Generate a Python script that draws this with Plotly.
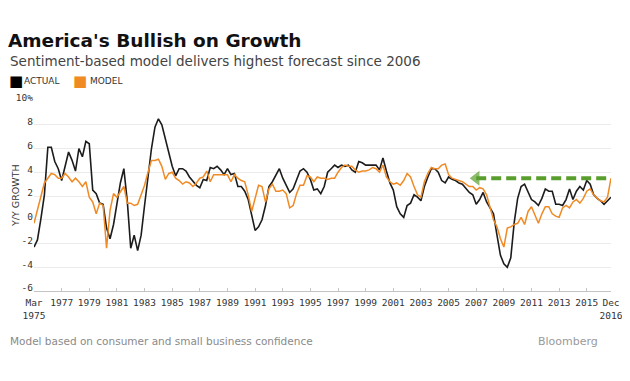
import pandas as pd
import plotly.graph_objects as go

# ---- data (quarterly, Mar 1975 .. Dec 2016), Y/Y growth in % ----
actual = [
    -2.3, -1.7, 0.1, 2.1,   # 1975
    6.1, 6.1, 4.9, 4.3,     # 1976
    3.3, 4.5, 5.7, 5.0,     # 1977
    4.1, 6.0, 5.3, 6.6,     # 1978
    6.4, 2.5, 2.2, 1.4,     # 1979
    1.3, -0.7, -1.6, -0.4,  # 1980
    1.2, 3.1, 4.3, 1.5,     # 1981
    -2.4, -1.3, -2.6, -1.3, # 1982
    1.2, 3.5, 6.0, 7.8,     # 1983
    8.5, 8.0, 6.9, 5.6,     # 1984
    4.5, 3.7, 4.3, 4.3,     # 1985
    4.1, 3.6, 3.2, 2.9,     # 1986
    2.7, 3.4, 3.3, 4.4,     # 1987
    4.3, 4.5, 4.2, 3.8,     # 1988
    4.3, 3.8, 3.9, 2.8,     # 1989
    2.8, 2.4, 1.7, 0.4,     # 1990
    -0.9, -0.6, 0.0, 1.2,   # 1991
    2.8, 3.2, 3.8, 4.3,     # 1992
    3.5, 2.9, 2.3, 2.6,     # 1993
    3.4, 4.1, 4.3, 4.0,     # 1994
    3.4, 2.5, 2.6, 2.2,     # 1995
    2.8, 4.0, 4.3, 4.6,     # 1996
    4.4, 4.6, 4.5, 4.6,     # 1997
    4.2, 4.0, 4.9, 4.8,     # 1998
    4.6, 4.6, 4.6, 4.6,     # 1999
    4.2, 5.2, 4.1, 3.1,     # 2000
    2.5, 1.1, 0.5, 0.2,     # 2001
    1.2, 1.4, 2.1, 1.9,     # 2002
    1.6, 2.8, 3.6, 4.3,     # 2003
    4.3, 4.0, 3.3, 3.1,     # 2004
    3.6, 3.4, 3.3, 3.1,     # 2005
    3.0, 2.6, 2.3, 2.1,     # 2006
    1.3, 1.7, 2.3, 1.5,     # 2007
    1.0, 0.5, -1.3, -3.0,   # 2008
    -3.7, -4.0, -3.2, -0.2, # 2009
    1.8, 2.8, 3.0, 2.4,     # 2010
    1.7, 1.5, 1.2, 1.8,     # 2011
    2.6, 2.4, 2.4, 1.3,     # 2012
    1.3, 1.2, 1.7, 2.6,     # 2013
    1.7, 2.4, 2.8, 2.5,     # 2014
    3.3, 3.0, 2.1, 1.8,     # 2015
    1.6, 1.3, 1.6, 1.9,     # 2016
]

model = [
    -0.3, 0.8, 2.1, 3.1,    # 1975
    3.5, 3.9, 3.8, 3.5,     # 1976
    3.5, 3.9, 3.6, 3.2,     # 1977
    3.5, 3.2, 2.8, 3.2,     # 1978
    1.9, 1.5, 0.5, 1.4,     # 1979
    1.2, -2.4, 0.8, 2.2,    # 1980
    1.9, 2.4, 2.8, 1.4,     # 1981
    1.4, 1.2, 1.3, 2.1,     # 1982
    2.9, 4.0, 5.0, 5.0,     # 1983
    5.1, 4.5, 3.4, 3.9,     # 1984
    4.0, 3.5, 3.3, 3.0,     # 1985
    3.2, 3.1, 2.8, 3.1,     # 1986
    3.5, 3.6, 4.1, 3.2,     # 1987
    3.8, 3.8, 3.8, 3.8,     # 1988
    3.8, 3.2, 3.8, 3.5,     # 1989
    3.3, 3.2, 2.1, 0.7,     # 1990
    1.8, 2.9, 2.8, 1.5,     # 1991
    2.6, 3.0, 2.4, 2.4,     # 1992
    2.5, 2.2, 1.0, 1.2,     # 1993
    2.2, 2.9, 2.9, 3.7,     # 1994
    3.6, 3.2, 3.6, 3.5,     # 1995
    3.5, 3.4, 3.5, 3.5,     # 1996
    4.0, 4.4, 4.6, 4.5,     # 1997
    4.5, 4.2, 4.0, 4.1,     # 1998
    4.1, 4.2, 4.4, 4.3,     # 1999
    4.0, 4.6, 3.6, 3.2,     # 2000
    3.0, 3.1, 2.9, 3.3,     # 2001
    3.9, 3.6, 2.8, 2.1,     # 2002
    1.9, 3.2, 3.9, 4.4,     # 2003
    4.3, 4.3, 4.6, 4.7,     # 2004
    3.8, 3.5, 3.4, 3.3,     # 2005
    3.2, 3.0, 2.8, 2.8,     # 2006
    2.5, 2.7, 2.6, 2.1,     # 2007
    1.0, 0.0, -0.6, -1.6,   # 2008
    -2.3, -0.7, -0.6, -0.4, # 2009
    -0.3, 0.2, -0.4, 0.7,   # 2010
    1.1, 0.4, -0.3, 0.5,    # 2011
    1.1, 1.1, 0.5, 0.3,     # 2012
    0.2, 1.0, 1.2, 1.0,     # 2013
    1.5, 1.7, 1.4, 1.8,     # 2014
    2.4, 2.6, 2.1, 1.8,     # 2015
    1.6, 1.5, 1.9, 3.5,     # 2016
]

dates = pd.date_range("1975-03-31", periods=len(actual), freq="QE")

tick_dates = ["1975-03-31"] + [f"{y}-03-31" for y in range(1977, 2016, 2)] + ["2016-12-31"]
tick_labels = ["Mar<br>1975"] + [str(y) for y in range(1977, 2016, 2)] + ["Dec<br>2016"]

y_ticks = [-6, -4, -2, 0, 2, 4, 6, 8, 10]
y_labels = ["-6", "-4", "-2", "0", "2", "4", "6", "8", "10%"]

arrow_start = "2007-03-31"   # highest forecast since 2006

# ---- style ----
C_ACTUAL = "#1c1c1c"
C_MODEL = "#f08a24"
C_ARROW = "#5a9f2d"
MONO = "DejaVu Sans Mono"
SANS = "DejaVu Sans"

fig = go.Figure()
fig.add_trace(go.Scatter(x=dates, y=actual, mode="lines", name="ACTUAL",
                         line=dict(color=C_ACTUAL, width=1.6), showlegend=False))
fig.add_trace(go.Scatter(x=dates, y=model, mode="lines", name="MODEL",
                         line=dict(color=C_MODEL, width=1.5), showlegend=False))
fig.add_trace(go.Scatter(
    x=[pd.Timestamp(arrow_start), dates[-1]], y=[model[-1], model[-1]],
    mode="lines+markers", showlegend=False, hoverinfo="skip",
    line=dict(color=C_ARROW, width=4, dash="10px,5px"),
    marker=dict(symbol=["triangle-left", "circle"], size=[13, 0], color=C_ARROW,
                line=dict(width=0)),
))

# page body has an 8px margin: the figure starts at screen (8, 8)
OX, OY = 8, 8
W, H = 630 - OX, 381 - OY
PL, PR, PT, PB = 34, 611, 101, 291          # plot area in screen pixels
L, R, T, B = PL - OX, W - (PR - OX), PT - OY, H - (PB - OY)
pw, ph = W - L - R, H - T - B

def px(X):
    return (X - OX - L) / pw

def py(Y):
    return (H - B - (Y - OY)) / ph

annotations = [
    dict(text="Sentiment-based model delivers highest forecast since 2006",
         x=px(8), y=py(61), xanchor="left", yanchor="middle",
         font=dict(family=SANS, size=13.5, color="#444444")),
    dict(text="■", x=px(16), y=py(81), xanchor="center", yanchor="middle",
         font=dict(family=SANS, size=15, color="#000000")),
    dict(text="ACTUAL", x=px(22), y=py(81), xanchor="left", yanchor="middle",
         font=dict(family=SANS, size=9, color="#333333")),
    dict(text="■", x=px(80), y=py(81), xanchor="center", yanchor="middle",
         font=dict(family=SANS, size=15, color=C_MODEL)),
    dict(text="MODEL", x=px(87.5), y=py(81), xanchor="left", yanchor="middle",
         font=dict(family=SANS, size=9, color="#333333")),
    dict(text="Model based on consumer and small business confidence",
         x=px(8), y=py(341), xanchor="left", yanchor="middle",
         font=dict(family=SANS, size=10.5, color="#8a8a8a")),
    dict(text="Bloomberg", x=px(600), y=py(341), xanchor="right", yanchor="middle",
         font=dict(family=SANS, size=11, color="#9a9a9a")),
    dict(text="Y/Y GROWTH", x=px(15), y=0.5, xanchor="center", yanchor="middle",
         textangle=-90, font=dict(family=SANS, size=9.5, color="#333333")),
]
for a in annotations:
    a.update(xref="paper", yref="paper", showarrow=False)

fig.update_layout(
    width=W, height=H,
    margin=dict(l=L, r=R, t=T, b=B, autoexpand=False),
    paper_bgcolor="white", plot_bgcolor="white",
    title=dict(text="<b>America's Bullish on Growth</b>", x=0, xanchor="left",
               xref="container", yref="container", y=1 - (41 - OY) / H, yanchor="middle",
               pad=dict(l=0, r=0, t=0, b=0),
               font=dict(family=SANS, size=18.5, color="#111111")),
    annotations=annotations,
    xaxis=dict(
        type="date", range=[dates[0], dates[-1]], automargin=False,
        tickmode="array", tickvals=tick_dates, ticktext=tick_labels, tickangle=0,
        showgrid=False, showline=True, linecolor="#c4c4c4", linewidth=1,
        ticks="inside", ticklen=3, tickcolor="#c4c4c4", ticklabelstandoff=3,
        tickfont=dict(family=MONO, size=9.5, color="#333333"),
        zeroline=False,
    ),
    yaxis=dict(
        range=[-6, 10], tickmode="array", tickvals=y_ticks, ticktext=y_labels,
        automargin=False, ticklabelshift=-3,
        showgrid=True, gridcolor="#ebebeb", gridwidth=1, zeroline=False,
        showline=False, ticks="",
        tickfont=dict(family=MONO, size=9.5, color="#333333"),
    ),
)

fig.write_html("out.html")
